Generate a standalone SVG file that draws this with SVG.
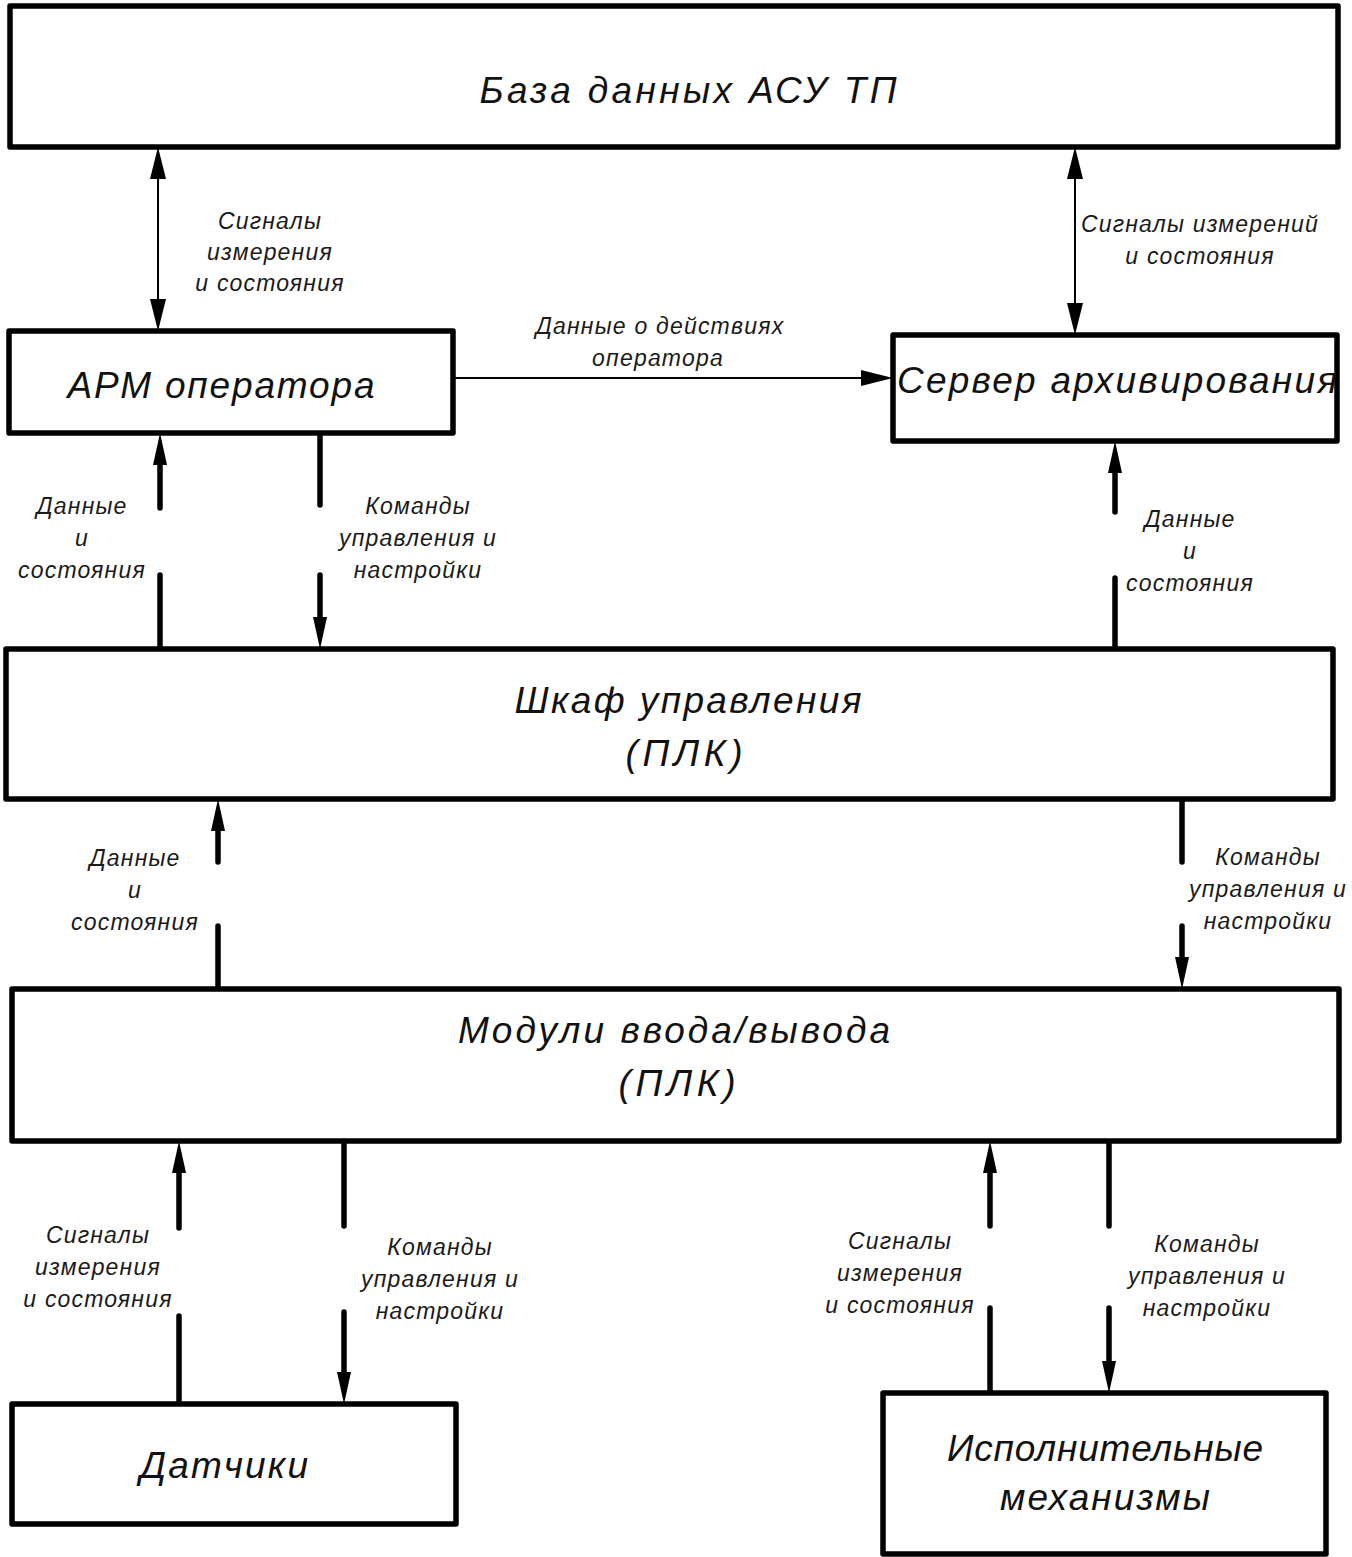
<svg xmlns="http://www.w3.org/2000/svg" width="1352" height="1557" viewBox="0 0 1352 1557">
<style>
.box{fill:#fff;stroke:#000;stroke-width:5.5;stroke-linejoin:round}
.big{font-family:"Liberation Sans","DejaVu Sans",sans-serif;font-style:italic;font-size:37px;fill:#111;text-anchor:middle}
.sm{font-family:"Liberation Sans","DejaVu Sans",sans-serif;font-style:italic;font-size:23px;fill:#1a1a1a;text-anchor:middle;letter-spacing:1.2px}
.thin{stroke:#000;stroke-width:2;fill:none}
.thick{stroke:#000;stroke-width:5.5;fill:none;stroke-linecap:round}
</style>
<defs>
<marker id="ah" markerUnits="userSpaceOnUse" viewBox="0 -8 32 16" markerWidth="32" markerHeight="16" refX="0" refY="0" orient="auto-start-reverse">
<path d="M0,-7 L32,0 L0,7 Z" fill="#000"/>
</marker>
<marker id="ahT" markerUnits="userSpaceOnUse" viewBox="0 -8 32 16" markerWidth="32" markerHeight="16" refX="0" refY="0" orient="auto-start-reverse">
<path d="M0,-8 L32,0 L0,8 Z" fill="#000"/>
</marker>
</defs>

<g id="connectors">
<line class="thin" x1="158" y1="179" x2="158" y2="299" marker-start="url(#ahT)" marker-end="url(#ahT)"/>
<line class="thin" x1="1075" y1="179" x2="1075" y2="303" marker-start="url(#ahT)" marker-end="url(#ahT)"/>
<line class="thin" x1="453" y1="378" x2="861" y2="378" marker-end="url(#ahT)"/>

<line class="thick" x1="160" y1="508" x2="160" y2="465" marker-end="url(#ah)"/>
<line class="thick" x1="160" y1="575" x2="160" y2="649"/>

<line class="thick" x1="320" y1="433" x2="320" y2="505"/>
<line class="thick" x1="320" y1="575" x2="320" y2="617" marker-end="url(#ah)"/>

<line class="thick" x1="1115" y1="512" x2="1115" y2="473" marker-end="url(#ah)"/>
<line class="thick" x1="1115" y1="578" x2="1115" y2="649"/>

<line class="thick" x1="218" y1="862" x2="218" y2="831" marker-end="url(#ah)"/>
<line class="thick" x1="218" y1="926" x2="218" y2="989"/>

<line class="thick" x1="1182" y1="799" x2="1182" y2="862"/>
<line class="thick" x1="1182" y1="926" x2="1182" y2="957" marker-end="url(#ah)"/>

<line class="thick" x1="179" y1="1228" x2="179" y2="1173" marker-end="url(#ah)"/>
<line class="thick" x1="179" y1="1316" x2="179" y2="1404"/>

<line class="thick" x1="344" y1="1137" x2="344" y2="1226"/>
<line class="thick" x1="344" y1="1312" x2="344" y2="1372" marker-end="url(#ah)"/>

<line class="thick" x1="990" y1="1226" x2="990" y2="1173" marker-end="url(#ah)"/>
<line class="thick" x1="990" y1="1308" x2="990" y2="1393"/>

<line class="thick" x1="1109" y1="1141" x2="1109" y2="1226"/>
<line class="thick" x1="1109" y1="1308" x2="1109" y2="1361" marker-end="url(#ah)"/>

<text class="sm" x="270" y="229">Сигналы</text>
<text class="sm" x="270" y="260">измерения</text>
<text class="sm" x="270" y="291">и состояния</text>

<text class="sm" x="1200" y="232">Сигналы измерений</text>
<text class="sm" x="1200" y="264">и состояния</text>

<text class="sm" x="660" y="334">Данные о действиях</text>
<text class="sm" x="658" y="366">оператора</text>

<text class="sm" x="82" y="514">Данные</text>
<text class="sm" x="82" y="546">и</text>
<text class="sm" x="82" y="578">состояния</text>

<text class="sm" x="418" y="514">Команды</text>
<text class="sm" x="418" y="546">управления и</text>
<text class="sm" x="418" y="578">настройки</text>

<text class="sm" x="1190" y="527">Данные</text>
<text class="sm" x="1190" y="559">и</text>
<text class="sm" x="1190" y="591">состояния</text>

<text class="sm" x="135" y="866">Данные</text>
<text class="sm" x="135" y="898">и</text>
<text class="sm" x="135" y="930">состояния</text>

<text class="sm" x="1268" y="865">Команды</text>
<text class="sm" x="1268" y="897">управления и</text>
<text class="sm" x="1268" y="929">настройки</text>

<text class="sm" x="98" y="1243">Сигналы</text>
<text class="sm" x="98" y="1275">измерения</text>
<text class="sm" x="98" y="1307">и состояния</text>

<text class="sm" x="440" y="1255">Команды</text>
<text class="sm" x="440" y="1287">управления и</text>
<text class="sm" x="440" y="1319">настройки</text>

<text class="sm" x="900" y="1249">Сигналы</text>
<text class="sm" x="900" y="1281">измерения</text>
<text class="sm" x="900" y="1313">и состояния</text>

<text class="sm" x="1207" y="1252">Команды</text>
<text class="sm" x="1207" y="1284">управления и</text>
<text class="sm" x="1207" y="1316">настройки</text>
</g>

<g id="db">
<rect class="box" x="10" y="6" width="1328" height="141"/>
<text class="big" x="688" y="103" textLength="417" lengthAdjust="spacing">База данных АСУ ТП</text>
</g>
<g id="arm">
<rect class="box" x="9" y="331" width="444" height="102"/>
<text class="big" x="221" y="398" textLength="307" lengthAdjust="spacing">АРМ оператора</text>
</g>
<g id="server">
<rect class="box" x="893" y="335" width="444" height="106"/>
<text class="big" x="1117" y="393" textLength="440" lengthAdjust="spacing">Сервер архивирования</text>
</g>
<g id="shkaf">
<rect class="box" x="6" y="649" width="1327" height="150"/>
<text class="big" x="688" y="713" textLength="347" lengthAdjust="spacing">Шкаф управления</text>
<text class="big" x="684" y="766" textLength="117" lengthAdjust="spacing">(ПЛК)</text>
</g>
<g id="moduli">
<rect class="box" x="12" y="989" width="1327" height="152"/>
<text class="big" x="674" y="1043" textLength="432" lengthAdjust="spacing">Модули ввода/вывода</text>
<text class="big" x="677" y="1096" textLength="117" lengthAdjust="spacing">(ПЛК)</text>
</g>
<g id="datchiki">
<rect class="box" x="12" y="1404" width="444" height="120"/>
<text class="big" x="224" y="1478" textLength="168" lengthAdjust="spacing">Датчики</text>
</g>
<g id="ispoln">
<rect class="box" x="883" y="1393" width="443" height="161"/>
<text class="big" x="1105" y="1461" textLength="316" lengthAdjust="spacing">Исполнительные</text>
<text class="big" x="1105" y="1510" textLength="210" lengthAdjust="spacing">механизмы</text>
</g>
</svg>
